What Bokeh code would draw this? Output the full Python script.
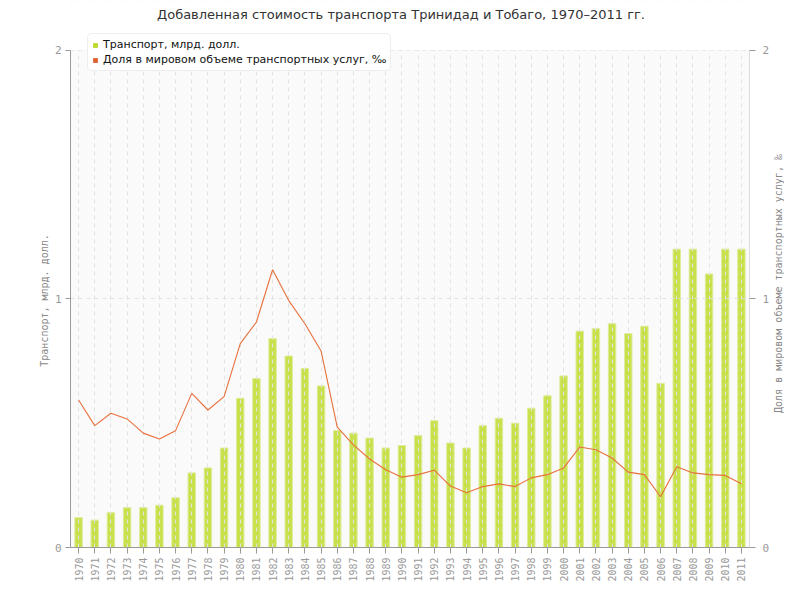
import math
from bokeh.plotting import figure
from bokeh.layouts import row
from bokeh.models import (Range1d, FactorRange, LinearAxis, FixedTicker, Legend,
                          LegendItem, Label, ColumnDataSource, BoxAnnotation)
from bokeh.embed import file_html
from bokeh.resources import INLINE

years = [str(y) for y in range(1970, 2012)]
transport = [0.12, 0.11, 0.14, 0.16, 0.16, 0.17, 0.20, 0.30, 0.32, 0.40,
             0.60, 0.68, 0.84, 0.77, 0.72, 0.65, 0.47, 0.46, 0.44, 0.40,
             0.41, 0.45, 0.51, 0.42, 0.40, 0.49, 0.52, 0.50, 0.56, 0.61,
             0.69, 0.87, 0.88, 0.90, 0.86, 0.89, 0.66, 1.20, 1.20, 1.10,
             1.20, 1.20]
share = [0.593, 0.49, 0.54, 0.517, 0.46, 0.436, 0.47, 0.62, 0.553, 0.607,
         0.82, 0.907, 1.117, 0.993, 0.90, 0.79, 0.484, 0.413, 0.356, 0.313,
         0.283, 0.293, 0.311, 0.247, 0.22, 0.245, 0.256, 0.245, 0.28, 0.293,
         0.32, 0.404, 0.393, 0.36, 0.303, 0.293, 0.204, 0.325, 0.30, 0.293,
         0.29, 0.256]
y_ticks = [0, 1, 2]

title_text = "Добавленная стоимость транспорта Тринидад и Тобаго, 1970–2011 гг."
left_label = "Транспорт, млрд. долл."
right_label = "Доля в мировом объеме транспортных услуг, ‰"
legend_labels = ["Транспорт, млрд. долл.", "Доля в мировом объеме транспортных услуг, ‰"]

FONT = "DejaVu Sans"
MONO = "DejaVu Sans Mono"
BAR_FILL = "#c8e04c"
BAR_LINE = "#dcec98"
LINE_COL = "#e8703c"
LEG_GREEN = "#bcd92e"
LEG_ORANGE = "#e0602e"
GRAY_TXT = "#999999"
LABEL_TXT = "#888888"

H = 584
LEFT_W, MAIN_W, RIGHT_W = 50, 722, 12
FRAME_BOTTOM_PAD = 34
FRAME_H = H - FRAME_BOTTOM_PAD          # 550 px, top of frame at canvas top
Y_TOP = max(y_ticks) * FRAME_H / 500    # values 0..2 occupy the lower 500 px

src = ColumnDataSource(dict(year=years, transport=transport, share=share))

fig = figure(width=MAIN_W, height=H, x_range=FactorRange(*years),
             y_range=Range1d(0, Y_TOP), output_backend="svg", toolbar_location=None,
             min_border_left=20, min_border_right=22, min_border_top=0,
             min_border_bottom=FRAME_BOTTOM_PAD)
fig.extra_y_ranges = {"right": Range1d(0, Y_TOP)}
fig.background_fill_color = "#fafafa"
fig.border_fill_color = "white"
fig.outline_line_color = None

bars = fig.vbar(x="year", top="transport", width=0.46, source=src,
                fill_color=BAR_FILL, line_color=BAR_LINE, line_width=1, level="image")
line = fig.line(x="year", y="share", source=src, y_range_name="right",
                line_color=LINE_COL, line_width=1.1)

# legend swatches: zero-height bars on the same data (nothing visible in the plot,
# but their legend glyph is a filled square)
sw1 = fig.vbar(x="year", top="transport", bottom="transport", width=0.5, source=src,
               fill_color=LEG_GREEN, line_color=None, level="image")
sw2 = fig.vbar(x="year", top="share", bottom="share", width=0.5, source=src,
               y_range_name="right", fill_color=LEG_ORANGE, line_color=None,
               level="image")

# grids
fig.xgrid.grid_line_color = "#e2e2e2"
fig.xgrid.grid_line_dash = "4 4"
fig.ygrid.grid_line_color = "#e2e2e2"
fig.ygrid.grid_line_dash = "4 4"
fig.ygrid.ticker = FixedTicker(ticks=y_ticks)

# white area above the value range
fig.add_layout(BoxAnnotation(bottom=max(y_ticks), fill_color="white", fill_alpha=1,
                             line_color=None, level="underlay"))

# left axis (its title is drawn in a side strip)
ya = fig.yaxis[0]
ya.ticker = FixedTicker(ticks=y_ticks)
ya.bounds = (0, max(y_ticks))
ya.major_label_text_font = MONO
ya.major_label_text_font_size = "11px"
ya.major_label_text_color = GRAY_TXT
ya.major_label_standoff = 4
ya.axis_line_color = "#999999"
ya.major_tick_line_color = "#999999"
ya.major_tick_out = 5
ya.major_tick_in = 0
ya.minor_tick_line_color = None

# right axis
ra = LinearAxis(y_range_name="right", ticker=FixedTicker(ticks=y_ticks))
ra.bounds = (0, max(y_ticks))
ra.major_label_text_font = MONO
ra.major_label_text_font_size = "11px"
ra.major_label_text_color = GRAY_TXT
ra.major_label_standoff = 7
ra.axis_line_color = "#dddddd"
ra.major_tick_line_color = "#999999"
ra.major_tick_out = 6
ra.major_tick_in = 0
ra.minor_tick_line_color = None
fig.add_layout(ra, "right")

# x axis
xa = fig.xaxis[0]
xa.major_label_orientation = math.pi / 2
xa.major_label_text_font = MONO
xa.major_label_text_font_size = "10px"
xa.major_label_text_color = GRAY_TXT
xa.axis_line_color = "#999999"
xa.major_tick_line_color = "#999999"
xa.major_tick_out = 6
xa.major_tick_in = 0
xa.major_label_standoff = 4

legend = Legend(items=[LegendItem(label=legend_labels[0], renderers=[sw1]),
                       LegendItem(label=legend_labels[1], renderers=[sw2])],
                location=(17, 476), orientation="vertical")
legend.label_text_font = FONT
legend.label_text_font_size = "11px"
legend.label_text_color = "#111111"
legend.label_height = 13
legend.glyph_height = 6
legend.glyph_width = 6
legend.label_standoff = 5
legend.spacing = 2
legend.padding = 4
legend.margin = 0
legend.border_line_color = "#dddddd"
legend.background_fill_color = "white"
legend.background_fill_alpha = 1
if "border_radius" in Legend.properties():
    legend.border_radius = 5
fig.add_layout(legend, "center")

fig.add_layout(Label(x=330.5, y=FRAME_H - 17, x_units="screen", y_units="screen",
                     text=title_text, text_align="center", text_baseline="middle",
                     text_font=FONT, text_font_size="13px", text_color="#333333"))


def side_strip(width, text, cx, cy_from_top):
    s = figure(width=width, height=H, x_range=Range1d(0, 1), y_range=Range1d(0, 1),
               output_backend="svg", toolbar_location=None,
               x_axis_location=None, y_axis_location=None,
               min_border_left=0, min_border_right=0, min_border_top=0,
               min_border_bottom=0)
    s.grid.visible = False
    s.outline_line_color = None
    s.background_fill_color = "white"
    s.border_fill_color = "white"
    # the row aligns this strip's frame with the main frame (bottom at FRAME_H)
    s.add_layout(Label(x=cx, y=FRAME_H - cy_from_top, x_units="screen", y_units="screen",
                       text=text, angle=math.pi / 2, text_align="center",
                       text_baseline="middle", text_font=MONO, text_font_size="10px",
                       text_color=LABEL_TXT))
    return s


left_strip = side_strip(LEFT_W, left_label, 44, 303)
right_strip = side_strip(RIGHT_W, right_label, 6, 286)

p = row(left_strip, fig, right_strip, spacing=0)

open("out.html", "w").write(file_html(p, INLINE))
